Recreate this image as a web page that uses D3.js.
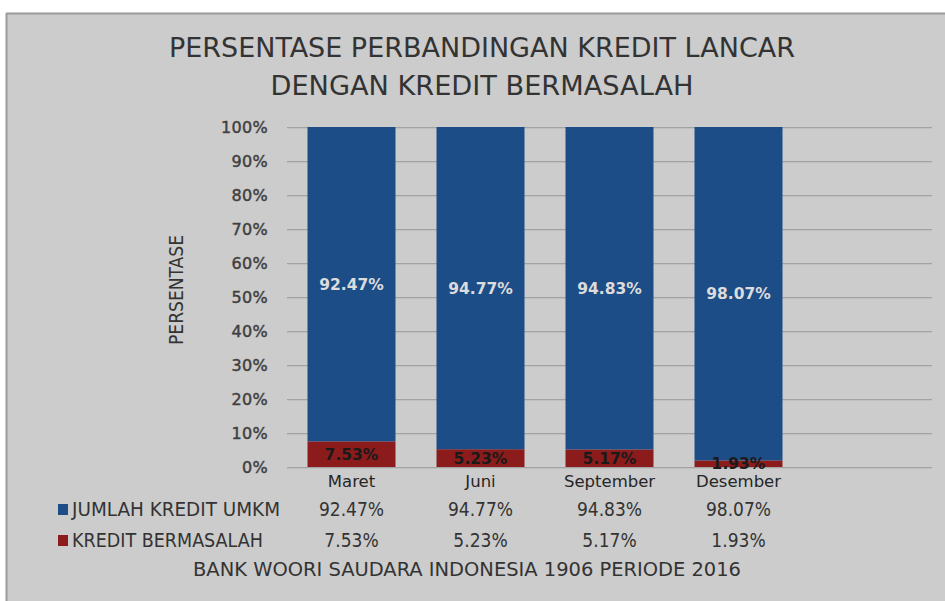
<!DOCTYPE html>
<html><head><meta charset="utf-8">
<script src="https://cdn.jsdelivr.net/npm/d3@7"></script>
<style>
html,body{margin:0;padding:0;background:#fff;}
svg{display:block;}
</style></head>
<body>
<svg id="chart" width="945" height="601"></svg>
<script>
const categories = ["Maret", "Juni", "September", "Desember"];
const seriesNames = ["JUMLAH KREDIT UMKM", "KREDIT BERMASALAH"];
const jumlahKredit = [92.47, 94.77, 94.83, 98.07];
const kreditBermasalah = [7.53, 5.23, 5.17, 1.93];
const yTicks = [0, 10, 20, 30, 40, 50, 60, 70, 80, 90, 100];
const titleLines = ["PERSENTASE PERBANDINGAN KREDIT LANCAR", "DENGAN KREDIT BERMASALAH"];
const yTitle = "PERSENTASE";
const footer = "BANK WOORI SAUDARA INDONESIA 1906 PERIODE 2016";

const colors = {blue: "#1c4d87", red: "#8c1c1c"};
const narrow = "'Liberation Sans Narrow','DejaVu Sans Condensed','Arial Narrow',sans-serif";

const svg = d3.select("#chart");
svg.append("rect").attr("x", 0).attr("y", 0).attr("width", 945).attr("height", 601).attr("fill", "#fff");
svg.append("rect").attr("x", 6).attr("y", 13).attr("width", 945).attr("height", 601).attr("fill", "#cccccc");
svg.append("line").attr("x1", 6).attr("x2", 945).attr("y1", 13.5).attr("y2", 13.5).attr("stroke", "#9a9a9a").attr("stroke-width", 2);
svg.append("line").attr("x1", 6.5).attr("x2", 6.5).attr("y1", 13).attr("y2", 601).attr("stroke", "#9a9a9a").attr("stroke-width", 2);

// title
const titleY = [57, 95];
const titleW = [626, 423];
titleLines.forEach((t, i) => {
  svg.append("text").attr("x", 482).attr("y", titleY[i]).attr("text-anchor", "middle")
    .attr("font-family", narrow).attr("font-size", 27).attr("fill", "#333")
    .attr("textLength", titleW[i]).attr("lengthAdjust", "spacingAndGlyphs").text(t);
});

const plotLeft = 287, plotRight = 932, plotTop = 127, plotBottom = 467;
const bandW = (plotRight - plotLeft) / 5;
const x = d3.scaleBand().domain(categories).range([plotLeft, plotLeft + bandW * categories.length]).paddingInner(0.318).paddingOuter(0.159);
const y = d3.scaleLinear().domain([0, 100]).range([plotBottom, plotTop]);

// gridlines
const grid = svg.append("g");
grid.selectAll("line.s").data(yTicks).join("line")
  .attr("x1", plotLeft).attr("x2", plotRight)
  .attr("y1", d => y(d) + 1.5).attr("y2", d => y(d) + 1.5)
  .attr("stroke", "#c0c0c0").attr("stroke-width", 1);
grid.selectAll("line.g").data(yTicks).join("line")
  .attr("x1", plotLeft).attr("x2", plotRight)
  .attr("y1", d => y(d) + 0.5).attr("y2", d => y(d) + 0.5)
  .attr("stroke", "#a3a3a3").attr("stroke-width", 1);

// y axis labels
const yAxis = d3.axisLeft(y).tickValues(yTicks).tickFormat(d => d + "%").tickSize(0).tickPadding(0);
const ya = svg.append("g").attr("transform", `translate(268,0)`).call(yAxis);
ya.select(".domain").remove();
ya.selectAll("text").attr("font-family", "'DejaVu Sans',sans-serif").attr("font-size", 16)
  .attr("fill", "#404040").attr("stroke", "#404040").attr("stroke-width", 0.45).attr("dy", "0.35em")
  .attr("letter-spacing", 0.3);

// y title
svg.append("text").attr("transform", "translate(183,290) rotate(-90)").attr("text-anchor", "middle")
  .attr("font-family", narrow).attr("font-size", 19).attr("fill", "#333")
  .attr("textLength", 110).attr("lengthAdjust", "spacingAndGlyphs").text(yTitle);

// bars
const stacked = categories.map((c, i) => ({cat: c, blue: jumlahKredit[i], red: kreditBermasalah[i]}));
const bars = svg.append("g");
bars.selectAll("rect.red").data(stacked).join("rect")
  .attr("x", d => x(d.cat)).attr("width", x.bandwidth())
  .attr("y", d => y(d.red)).attr("height", d => y(0) - y(d.red))
  .attr("fill", colors.red);
bars.selectAll("rect.blue").data(stacked).join("rect")
  .attr("x", d => x(d.cat)).attr("width", x.bandwidth())
  .attr("y", d => y(d.red + d.blue)).attr("height", d => y(d.red) - y(d.red + d.blue))
  .attr("fill", colors.blue);

// data labels
const labels = svg.append("g").attr("font-family", "'DejaVu Sans',sans-serif").attr("font-weight", "bold")
  .attr("font-size", 15.5).attr("text-anchor", "middle");
labels.selectAll("text.b").data(stacked).join("text")
  .attr("x", d => x(d.cat) + x.bandwidth() / 2).attr("y", d => y(d.red + d.blue / 2)).attr("dy", "0.35em")
  .attr("fill", "#dcdcdc").text(d => d.blue.toFixed(2) + "%");
labels.selectAll("text.r").data(stacked).join("text")
  .attr("x", d => x(d.cat) + x.bandwidth() / 2).attr("y", d => y(d.red / 2)).attr("dy", "0.35em")
  .attr("fill", "#1a1a1a").text(d => d.red.toFixed(2) + "%");

// category labels
const xAxis = d3.axisBottom(x).tickSize(0).tickPadding(0);
const xa = svg.append("g").attr("transform", `translate(0,${plotBottom + 20})`).call(xAxis);
xa.select(".domain").remove();
xa.selectAll("text").attr("font-family", "'DejaVu Sans',sans-serif").attr("font-size", 16.5)
  .attr("fill", "#262626").attr("dy", 0);

// data table
const rows = [
  {name: seriesNames[0], vals: jumlahKredit, color: colors.blue, y: 509, w: 208},
  {name: seriesNames[1], vals: kreditBermasalah, color: colors.red, y: 540, w: 191}
];
rows.forEach(r => {
  svg.append("rect").attr("x", 58).attr("y", r.y - 5).attr("width", 10).attr("height", 11).attr("fill", r.color);
  svg.append("text").attr("x", 72).attr("y", r.y).attr("dy", "0.35em")
    .attr("font-family", narrow).attr("font-size", 19).attr("fill", "#333")
    .attr("textLength", r.w).attr("lengthAdjust", "spacingAndGlyphs").text(r.name);
  svg.append("g").selectAll("text").data(r.vals).join("text")
    .attr("x", (d, i) => x(categories[i]) + x.bandwidth() / 2).attr("y", r.y).attr("dy", "0.35em")
    .attr("text-anchor", "middle").attr("font-family", narrow).attr("font-size", 19).attr("fill", "#333")
    .text(d => d.toFixed(2) + "%");
});

// footer
svg.append("text").attr("x", 467).attr("y", 569).attr("dy", "0.35em").attr("text-anchor", "middle")
  .attr("font-family", narrow).attr("font-size", 20).attr("fill", "#333")
  .attr("textLength", 548).attr("lengthAdjust", "spacingAndGlyphs").text(footer);
</script>
</body></html>
